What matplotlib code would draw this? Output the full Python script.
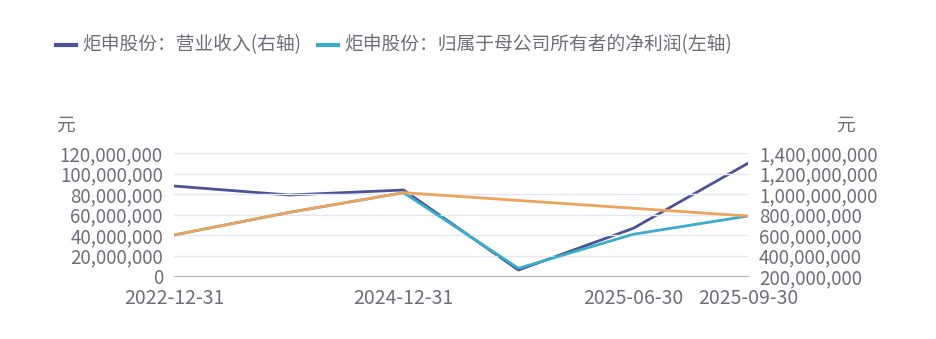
import matplotlib.pyplot as plt
import numpy as np

plt.rcParams['font.family'] = ['Noto Sans CJK SC', 'DejaVu Sans']

dates = ["2022-12-31", "2023-12-31", "2024-12-31", "2025-03-31", "2025-06-30", "2025-09-30"]
shown_labels = ["2022-12-31", "", "2024-12-31", "", "2025-06-30", "2025-09-30"]
revenue = [1078e6, 990e6, 1039e6, 258e6, 665e6, 1300e6]          # right axis
net_profit = [40e6, 62e6, 81.3e6, 7.5e6, 40.7e6, 58.5e6]          # left axis
trend = [40e6, 62e6, 81.3e6, np.nan, np.nan, 58.5e6]              # left axis, gaps connected

text_col = "#6e6e7a"
x = np.arange(len(dates))

fig = plt.figure(figsize=(9.37, 3.39), dpi=100)
ax = fig.add_axes([174 / 937, 1 - 276 / 339, (748 - 174) / 937, (276 - 153) / 339])
ax2 = ax.twinx()

ax2.plot(x, revenue, color="#4b5398", lw=2, zorder=3)
ax.plot(x, net_profit, color="#3aaec8", lw=2, zorder=3)
ok = ~np.isnan(trend)
ax.plot(x[ok], np.array(trend)[ok], color="#eda35c", lw=2, zorder=4)
ax.set_zorder(ax2.get_zorder() + 1)
ax.patch.set_visible(False)

ax.set_xlim(0, len(dates) - 1)
ax.set_ylim(0, 120e6)
ax.set_yticks(np.arange(0, 120e6 + 1, 20e6))
ax2.set_ylim(200e6, 1400e6)
ax2.set_yticks(np.arange(200e6, 1400e6 + 1, 200e6))

fmt = lambda v, p: f"{v:,.0f}"
ax.yaxis.set_major_formatter(plt.FuncFormatter(fmt))
ax2.yaxis.set_major_formatter(plt.FuncFormatter(fmt))

ax.set_xticks(x)
ax.set_xticklabels(shown_labels)
ax.grid(axis="y", color="#e6e6f2", lw=1)
for a in (ax, ax2):
    for s in a.spines.values():
        s.set_visible(False)
    a.tick_params(length=0, labelsize=13.5, colors=text_col, pad=8)
ax.spines["bottom"].set_visible(True)
ax.spines["bottom"].set_color("#b4b4c8")
ax.tick_params(axis="x", pad=9, labelsize=14)

fig.text(56 / 937, 1 - 125 / 339, "元", color=text_col, fontsize=13.5, va="center")
fig.text(836 / 937, 1 - 125 / 339, "元", color=text_col, fontsize=13.5, va="center")

# legend
items = [("#4b5398", "炬申股份：营业收入(右轴)", 56), ("#3aaec8", "炬申股份：归属于母公司所有者的净利润(左轴)", 318)]
for col, label, px in items:
    fig.add_artist(plt.Line2D([px / 937, (px + 20) / 937], [1 - 45 / 339] * 2, color=col, lw=3))
    fig.text((px + 26) / 937, 1 - 45 / 339, label, color=text_col, fontsize=13.5, va="center")

fig.savefig("out.png", dpi=100)
